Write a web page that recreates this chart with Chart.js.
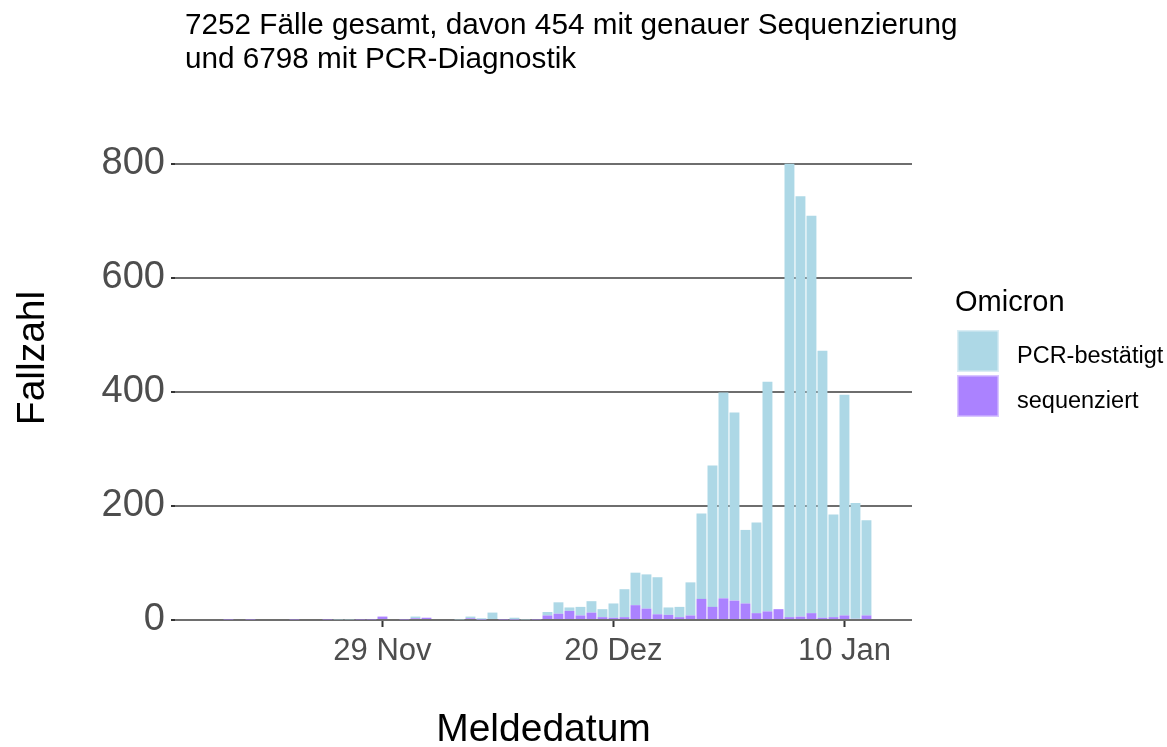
<!DOCTYPE html>
<html>
<head>
<meta charset="utf-8">
<script src="https://cdn.jsdelivr.net/npm/chart.js@4.4.0/dist/chart.umd.min.js"></script>
<style>
  html, body { margin: 0; padding: 0; background: #ffffff; }
  #wrap { width: 1167px; height: 747px; }
</style>
</head>
<body>
<div id="wrap"><canvas id="omicronChart" width="1167" height="747"></canvas></div>
<script>
// first day of the series, one bar per day after that
const startDate = '2021-11-11';

// Omicron cases per reporting day (11 Nov 2021 .. 12 Jan 2022)
const sequenced = [
  0, 0, 0, 0, 1, 0, 1, 0, 0, 0,
  1, 0, 0, 1, 0, 0, 1, 1, 6, 0,
  1, 3, 4, 0, 0, 0, 3, 1, 0, 1,
  1, 0, 1, 8, 11, 16, 8, 13, 5, 4,
  5, 26, 20, 10, 9, 5, 8, 37, 23, 38,
  34, 29, 12, 15, 19, 5, 6, 12, 4, 5,
  8, 2, 8
];
const pcrConfirmed = [
  0, 0, 0, 0, 0, 0, 0, 0, 0, 0,
  0, 0, 0, 0, 1, 1, 0, 0, 0, 0,
  0, 3, 0, 0, 0, 1, 3, 2, 13, 0,
  3, 1, 0, 6, 20, 6, 15, 20, 14, 25,
  49, 57, 60, 65, 13, 18, 58, 150, 248, 361,
  330, 129, 159, 403, 0, 795, 737, 697, 468, 180,
  387, 203, 167
];

const xTickDays = [18, 39, 60];
const xTickLabels = ['29 Nov', '20 Dez', '10 Jan'];
const yTicks = [0, 200, 400, 600, 800];

const titleLines = [
  '7252 Fälle gesamt, davon 454 mit genauer Sequenzierung',
  'und 6798 mit PCR-Diagnostik'
];

const FONT = '"Liberation Sans", Arial, Helvetica, sans-serif';

function toPoints(values) {
  return values.map((v, i) => ({ x: i, y: v }));
}

// title + legend drawn on the canvas
const decorations = {
  id: 'decorations',
  afterDraw(chart) {
    const ctx = chart.ctx;
    ctx.save();
    ctx.fillStyle = '#000000';
    ctx.textAlign = 'left';
    ctx.textBaseline = 'alphabetic';
    ctx.font = '29.7px ' + FONT;
    ctx.fillText(titleLines[0], 185, 34);
    ctx.fillText(titleLines[1], 185, 68);

    // legend
    ctx.font = '29px ' + FONT;
    ctx.fillText('Omicron', 955, 311);
    const ds = chart.data.datasets;
    const order = [1, 0];
    ctx.font = '23.5px ' + FONT;
    order.forEach((idx, k) => {
      const y = 330 + k * 45;
      ctx.fillStyle = ds[idx].backgroundColor;
      ctx.fillRect(957, y, 42, 42);
      ctx.strokeStyle = 'rgba(255,255,255,0.55)';
      ctx.lineWidth = 1.5;
      ctx.strokeRect(957.75, y + 0.75, 40.5, 40.5);
      ctx.fillStyle = '#000000';
      ctx.fillText(ds[idx].label, 1017, y + 33);
    });
    ctx.restore();
  }
};

const ctx = document.getElementById('omicronChart').getContext('2d');
new Chart(ctx, {
  type: 'bar',
  data: {
    datasets: [
      {
        label: 'sequenziert',
        data: toPoints(sequenced),
        backgroundColor: '#AB82FF'
      },
      {
        label: 'PCR-bestätigt',
        data: toPoints(pcrConfirmed),
        backgroundColor: '#ADD8E6'
      }
    ]
  },
  options: {
    responsive: false,
    animation: false,
    layout: { padding: { top: 96, right: 255, left: 0, bottom: 0 } },
    datasets: { bar: { categoryPercentage: 1.0, barPercentage: 0.9 } },
    plugins: {
      legend: { display: false },
      tooltip: { enabled: false }
    },
    scales: {
      x: {
        type: 'linear',
        stacked: true,
        offset: false,
        min: -0.86,
        max: 66.14,
        afterFit(scale) { scale.height = 127; },
        afterBuildTicks(scale) { scale.ticks = xTickDays.map(v => ({ value: v })); },
        border: { display: false },
        grid: {
          offset: false,
          drawOnChartArea: false,
          drawTicks: true,
          tickLength: 7,
          tickColor: '#333333',
          tickWidth: 2
        },
        ticks: {
          autoSkip: false,
          maxRotation: 0,
          padding: 6,
          color: '#4d4d4d',
          font: { family: FONT, size: 31 },
          callback: (value, index) => xTickLabels[index]
        },
        title: {
          display: true,
          text: 'Meldedatum',
          color: '#000000',
          font: { family: FONT, size: 39, lineHeight: 1 },
          padding: { top: 0, bottom: -3 }
        }
      },
      y: {
        stacked: true,
        min: 0,
        max: 919,
        afterFit(scale) { scale.width = 175; },
        afterBuildTicks(scale) { scale.ticks = yTicks.map(v => ({ value: v })); },
        border: { display: false },
        grid: {
          color: '#6e6e6e',
          lineWidth: 2,
          drawTicks: true,
          tickLength: 4,
          tickColor: '#333333',
          tickWidth: 2
        },
        ticks: {
          padding: 6,
          color: '#4d4d4d',
          font: { family: FONT, size: 38 }
        },
        title: {
          display: true,
          text: 'Fallzahl',
          color: '#000000',
          font: { family: FONT, size: 39, lineHeight: 1 },
          padding: { top: 14, bottom: 0 }
        }
      }
    }
  },
  plugins: [decorations]
});
</script>
</body>
</html>
